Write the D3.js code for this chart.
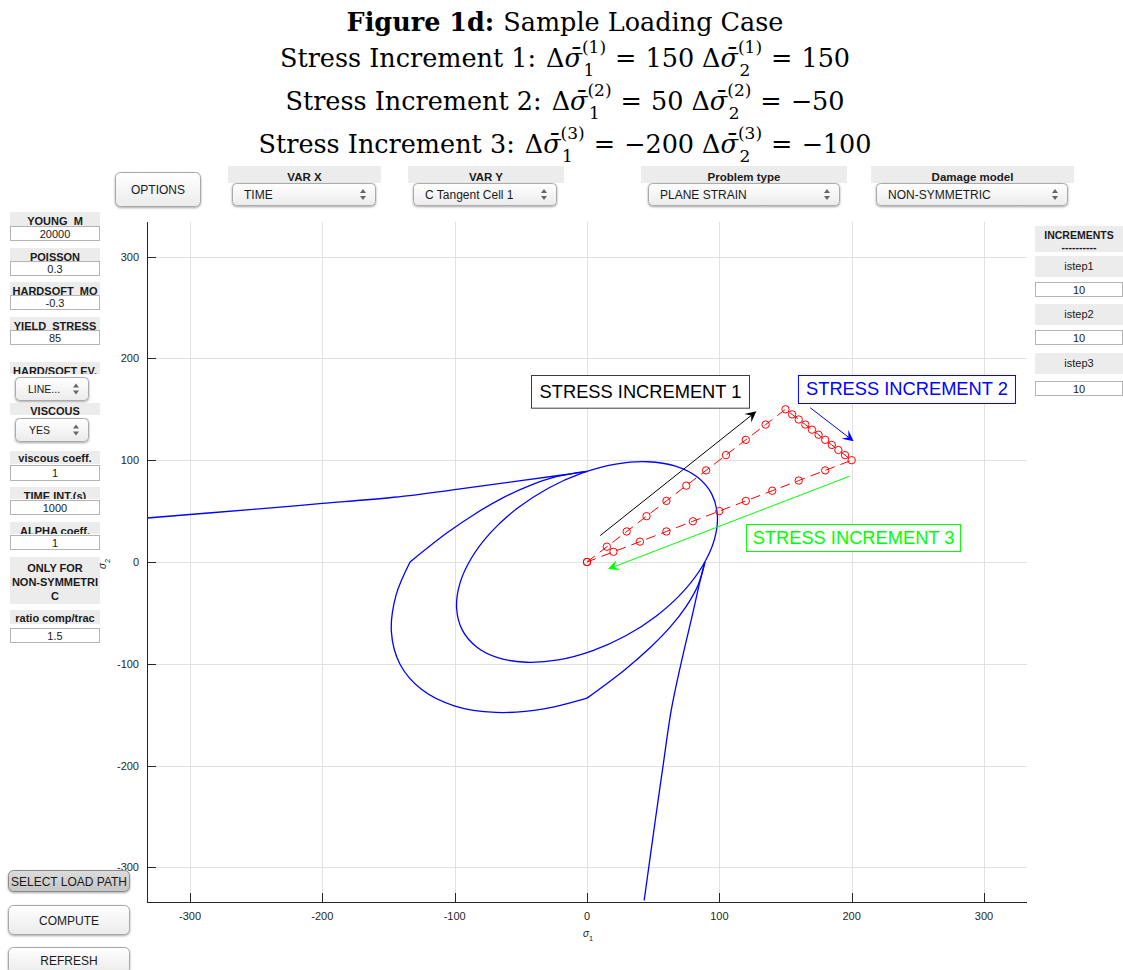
<!DOCTYPE html>
<html>
<head>
<meta charset="utf-8">
<script src="https://cdn.jsdelivr.net/npm/d3@7"></script>
<style>
  html, body { margin: 0; padding: 0; background: #fff; }
  svg { display: block; }
</style>
</head>
<body>
<svg id="fig" width="1123" height="970"></svg>
<script>
// ---------------- data ----------------
const titleHead = "Figure 1d:";
const titleSub = "Sample Loading Case";
const incS1 = [150, 50, -200];
const incS2 = [150, -50, -100];

const xTicks = [-300, -200, -100, 0, 100, 200, 300];
const yTicks = [-300, -200, -100, 0, 100, 200, 300];

// load path (sigma_1, sigma_2), 10 steps per increment
const pathS1 = [0, 15, 30, 45, 60, 75, 90, 105, 120, 135, 150,
                155, 160, 165, 170, 175, 180, 185, 190, 195, 200,
                180, 160, 140, 120, 100, 80, 60, 40, 20, 0];
const pathS2 = [0, 15, 30, 45, 60, 75, 90, 105, 120, 135, 150,
                145, 140, 135, 130, 125, 120, 115, 110, 105, 100,
                90, 80, 70, 60, 50, 40, 30, 20, 10, 0];

// closed elastic domain
const innerS1 = [83.4, 66.9, 45.9, 21.7, -3.9, -29.3, -52.7, -72.5, -87.3, -96.2, -98.5, -94.2,
                 -83.4, -66.9, -45.9, -21.7, 3.9, 29.3, 52.7, 72.5, 87.3, 96.2, 98.5, 94.2];
const innerS2 = [83.4, 94.2, 98.5, 96.2, 87.3, 72.5, 52.7, 29.3, 3.9, -21.7, -45.9, -66.9,
                 -83.4, -94.2, -98.5, -96.2, -87.3, -72.5, -52.7, -29.3, -3.9, 21.7, 45.9, 66.9];

// non-symmetric surface: mixed quadrant (s1<0, s2>0)
const mixATopS1 = [0, -22.5, -43.3, -63.3, -83.5, -106.0, -133.7];
const mixATopS2 = [89.1, 84.0, 75.1, 63.3, 48.2, 28.4, 0];
// compression-compression arc
const compS1 = [-133.7, -144.3, -147.8, -141.3, -125.1, -100.4, -68.9, -32.6, 0];
const compS2 = [0, -32.6, -68.9, -100.4, -125.1, -141.3, -147.8, -144.3, -133.7];
// mixed quadrant (s1>0, s2<0)
const mixBS1 = [0, 28.4, 48.2, 63.3, 75.1, 84.0, 89.1];
const mixBS2 = [-133.7, -106.0, -83.5, -63.3, -43.3, -22.5, 0];

// open branches
const branchLS1 = [-332.5, -250, -200, -146, -100, -50, -20, 0];
const branchLS2 = [43.2, 52, 57.5, 63.6, 71, 80, 85.2, 89.1];
const branchBS1 = [43.2, 52, 57.5, 63.6, 71, 80, 85.2, 89.1];
const branchBS2 = [-332.5, -250, -200, -146, -100, -50, -20, 0];

// annotations (data coordinates)
const arrowSpecs = [
  { from: [10, 26], to: [128, 148], color: "#000000" },
  { from: [168.7, 151.5], to: [201.5, 118.7], color: "#0000ff" },
  { from: [198.5, 84.3], to: [15.9, -6.9], color: "#00ff00" }
];
const boxSpecs = [
  { label: "STRESS INCREMENT 1", color: "#000000", border: "#3c3c3c", x0: -42.3, x1: 122.4, y0: 151.6, y1: 183.7 },
  { label: "STRESS INCREMENT 2", color: "#0000ff", border: "#0000ff", x0: 159.4, x1: 323.4, y0: 156.2, y1: 183.7 },
  { label: "STRESS INCREMENT 3", color: "#00ff00", border: "#00ff00", x0: 120.2, x1: 281.9, y0: 10.8, y1: 37.3 }
];

// ---------------- setup ----------------
const svg = d3.select("#fig");
const SANS = "'Liberation Sans', Arial, Helvetica, sans-serif";
const SERIF = "'DejaVu Serif', serif";

const defs = svg.append("defs");
const gBtn = defs.append("linearGradient").attr("id", "btnGrad").attr("x1", 0).attr("y1", 0).attr("x2", 0).attr("y2", 1);
gBtn.append("stop").attr("offset", "0%").attr("stop-color", "#ffffff");
gBtn.append("stop").attr("offset", "100%").attr("stop-color", "#ebebeb");
const gBtnP = defs.append("linearGradient").attr("id", "btnGradP").attr("x1", 0).attr("y1", 0).attr("x2", 0).attr("y2", 1);
gBtnP.append("stop").attr("offset", "0%").attr("stop-color", "#dcdcdc");
gBtnP.append("stop").attr("offset", "100%").attr("stop-color", "#c4c4c4");
const shadow = defs.append("filter").attr("id", "shadow").attr("x", "-10%").attr("y", "-20%").attr("width", "120%").attr("height", "150%");
shadow.append("feDropShadow").attr("dx", 0).attr("dy", 1).attr("stdDeviation", 0.8).attr("flood-color", "#000").attr("flood-opacity", 0.35);

// ---------------- title ----------------
const fmt = v => v < 0 ? "\u2212" + Math.abs(v) : String(v);
function drawTitleLine(parts, baseline) {
  const g = svg.append("g").attr("font-family", SERIF).attr("fill", "#000");
  let cx = 0;
  parts.forEach(p => {
    if (p.gap) { cx += p.gap; return; }
    if (p.sup !== undefined) {
      const a = g.append("text").attr("x", cx).attr("y", -14).attr("font-size", 17).text(p.sup);
      const b = g.append("text").attr("x", cx + 1.5).attr("y", 8.5).attr("font-size", 17).text(p.sub);
      cx += Math.max(a.node().getComputedTextLength(), b.node().getComputedTextLength() + 1.5) + 1;
      return;
    }
    const t = g.append("text").attr("x", cx).attr("y", 0).attr("font-size", 25.5).text(p.t);
    if (p.bold) t.attr("font-weight", "bold");
    if (p.it) t.attr("font-style", "italic");
    cx += t.node().getComputedTextLength();
  });
  g.attr("transform", `translate(${565 - cx / 2},${baseline})`);
}
drawTitleLine([{ t: titleHead, bold: true }, { gap: 9 }, { t: titleSub }], 31);
const baselines = [67, 110, 153];
incS1.forEach((v, i) => {
  const k = `(${i + 1})`;
  drawTitleLine([
    { t: `Stress Increment ${i + 1}:` }, { gap: 10 },
    { t: "\u0394" }, { t: "\u03C3\u0304", it: true }, { sup: k, sub: "1" }, { gap: 8 },
    { t: "=" }, { gap: 9 }, { t: fmt(v) }, { gap: 8 },
    { t: "\u0394" }, { t: "\u03C3\u0304", it: true }, { sup: k, sub: "2" }, { gap: 8 },
    { t: "=" }, { gap: 9 }, { t: fmt(incS2[i]) }
  ], baselines[i]);
});

// ---------------- GUI widgets ----------------
let clipId = 0;
function strip(x, y, w, h, lines, opt = {}) {
  const g = svg.append("g");
  g.append("rect").attr("x", x).attr("y", y).attr("width", w).attr("height", h).attr("fill", "#ececec");
  const id = "clip" + (clipId++);
  defs.append("clipPath").attr("id", id).append("rect").attr("x", x).attr("y", y).attr("width", w).attr("height", h);
  const tg = g.append("g").attr("clip-path", `url(#${id})`);
  lines.forEach((l, i) => {
    tg.append("text").attr("x", x + w / 2).attr("y", opt.base + i * (opt.lh || 14))
      .attr("text-anchor", "middle").attr("font-family", SANS)
      .attr("font-size", opt.size || 11).attr("font-weight", opt.normal ? "normal" : "bold")
      .attr("fill", "#1a1a1a").text(l);
  });
}
function editBox(x, y, w, h, value) {
  svg.append("rect").attr("x", x + 0.5).attr("y", y + 0.5).attr("width", w - 1).attr("height", h - 1)
    .attr("fill", "#fff").attr("stroke", "#b4b4b4").attr("stroke-width", 1);
  svg.append("text").attr("x", x + w / 2).attr("y", y + h / 2 + 4).attr("text-anchor", "middle")
    .attr("font-family", SANS).attr("font-size", 11).attr("fill", "#1a1a1a").text(value);
}
function popup(x, y, w, h, label, size = 12, tx = 12) {
  svg.append("rect").attr("x", x + 0.5).attr("y", y + 0.5).attr("width", w - 1).attr("height", h - 1).attr("rx", 4)
    .attr("fill", "url(#btnGrad)").attr("stroke", "#ababab").attr("filter", "url(#shadow)");
  svg.append("text").attr("x", x + tx).attr("y", y + h / 2 + 4).attr("font-family", SANS)
    .attr("font-size", size).attr("fill", "#1a1a1a").text(label);
  const ax = x + w - 13, cy = y + h / 2;
  svg.append("path").attr("d", `M${ax - 3},${cy - 1.5} L${ax + 3},${cy - 1.5} L${ax},${cy - 5.5} Z`).attr("fill", "#666");
  svg.append("path").attr("d", `M${ax - 3},${cy + 1.5} L${ax + 3},${cy + 1.5} L${ax},${cy + 5.5} Z`).attr("fill", "#666");
}
function button(x, y, w, h, label, pressed = false) {
  svg.append("rect").attr("x", x + 0.5).attr("y", y + 0.5).attr("width", w - 1).attr("height", h - 1).attr("rx", 5)
    .attr("fill", pressed ? "url(#btnGradP)" : "url(#btnGrad)")
    .attr("stroke", pressed ? "#8c8c8c" : "#a8a8a8").attr("filter", "url(#shadow)");
  svg.append("text").attr("x", x + w / 2).attr("y", y + h / 2 + 4.5).attr("text-anchor", "middle")
    .attr("font-family", SANS).attr("font-size", 12).attr("fill", "#1a1a1a").text(label);
}

// top row
button(115, 172, 86, 35, "OPTIONS");
strip(228, 166, 153, 17, ["VAR X"], { base: 180.5, size: 11.5 });
popup(232, 183, 144, 23, "TIME");
strip(408, 166, 156, 17, ["VAR Y"], { base: 180.5, size: 11.5 });
popup(413, 183, 144, 23, "C Tangent Cell 1");
strip(641, 166, 206, 17, ["Problem type"], { base: 180.5, size: 11.5 });
popup(648, 183, 192, 23, "PLANE STRAIN");
strip(871, 166, 203, 17, ["Damage model"], { base: 180.5, size: 11.5 });
popup(876, 183, 192, 23, "NON-SYMMETRIC");

// left column
strip(10, 212, 90, 14, ["YOUNG_M"], { base: 225 });
editBox(10, 226, 90, 15, "20000");
strip(10, 248, 90, 13, ["POISSON"], { base: 261 });
editBox(10, 261, 90, 15, "0.3");
strip(10, 282, 90, 13, ["HARDSOFT_MO"], { base: 295 });
editBox(10, 295, 90, 15, "-0.3");
strip(10, 317, 90, 13, ["YIELD_STRESS"], { base: 330 });
editBox(10, 330, 90, 15, "85");
strip(10, 362, 90, 12, ["HARD/SOFT EV."], { base: 374.5 });
popup(15, 377, 74, 24, "LINE...", 10.5, 13);
strip(10, 403, 90, 12, ["VISCOUS"], { base: 415 });
popup(15, 418, 74, 24, "YES", 10.5, 14);
strip(10, 451, 90, 13, ["viscous coeff."], { base: 462 });
editBox(10, 465, 90, 16, "1");
strip(10, 487, 90, 12, ["TIME INT.(s)"], { base: 499.5 });
editBox(10, 500, 90, 15, "1000");
strip(10, 522, 90, 12, ["ALPHA coeff."], { base: 534.5 });
editBox(10, 535, 90, 15, "1");
strip(10, 557, 90, 47, ["ONLY FOR", "NON-SYMMETRI", "C"], { base: 572, lh: 14 });
strip(10, 610, 90, 14, ["ratio comp/trac"], { base: 621.5 });
editBox(10, 628, 90, 15, "1.5");

// right column
strip(1035, 226, 88, 26, ["INCREMENTS", "----------"], { base: 239, lh: 12, size: 10.5 });
strip(1035, 256, 88, 21, ["istep1"], { base: 270, normal: true });
editBox(1035, 282, 88, 15, "10");
strip(1035, 304, 88, 21, ["istep2"], { base: 318, normal: true });
editBox(1035, 330, 88, 15, "10");
strip(1035, 353, 88, 21, ["istep3"], { base: 367, normal: true });
editBox(1035, 381, 88, 15, "10");

// ---------------- axes ----------------
const L = 147, R = 1027, T = 222, B = 902;
const x = d3.scaleLinear().domain([-332.5, 332.5]).range([L, R]);
const y = d3.scaleLinear().domain([-334, 334]).range([B, T]);
const plot = svg.append("g");
defs.append("clipPath").attr("id", "plotClip").append("rect").attr("x", L).attr("y", T).attr("width", R - L).attr("height", B - T);

// grid
plot.append("g").selectAll("line.gx").data(xTicks).join("line")
  .attr("x1", d => Math.round(x(d)) + 0.5).attr("x2", d => Math.round(x(d)) + 0.5)
  .attr("y1", T).attr("y2", B).attr("stroke", "#e1e1e1").attr("stroke-width", 1);
plot.append("g").selectAll("line.gy").data(yTicks).join("line")
  .attr("y1", d => Math.round(y(d)) + 0.5).attr("y2", d => Math.round(y(d)) + 0.5)
  .attr("x1", L).attr("x2", R).attr("stroke", "#e1e1e1").attr("stroke-width", 1);

// curves
const curves = plot.append("g").attr("clip-path", "url(#plotClip)");
const zip = (a, b) => a.map((v, i) => [v, b[i]]);
const smooth = d3.line().x(d => x(d[0])).y(d => y(d[1])).curve(d3.curveCatmullRom.alpha(0.5));
const smoothClosed = d3.line().x(d => x(d[0])).y(d => y(d[1])).curve(d3.curveCatmullRomClosed.alpha(0.5));
const blue = { stroke: "#0000ff", width: 1.3 };
[[mixATopS1, mixATopS2], [compS1, compS2], [mixBS1, mixBS2], [branchLS1, branchLS2], [branchBS1, branchBS2]]
  .forEach(([a, b]) => {
    curves.append("path").attr("d", smooth(zip(a, b))).attr("fill", "none")
      .attr("stroke", blue.stroke).attr("stroke-width", blue.width);
  });
curves.append("path").attr("d", smoothClosed(zip(innerS1, innerS2))).attr("fill", "none")
  .attr("stroke", blue.stroke).attr("stroke-width", blue.width);

// load path
const straight = d3.line().x(d => x(d[0])).y(d => y(d[1]));
const pathPts = zip(pathS1, pathS2);
curves.append("path").attr("d", straight(pathPts)).attr("fill", "none")
  .attr("stroke", "#ff0000").attr("stroke-width", 1).attr("stroke-dasharray", "10,6");
curves.append("g").selectAll("circle").data(pathPts).join("circle")
  .attr("cx", d => x(d[0])).attr("cy", d => y(d[1])).attr("r", 3.7)
  .attr("fill", "none").attr("stroke", "#ff0000").attr("stroke-width", 1);

// axis lines and ticks
const axisColor = "#262626";
plot.append("line").attr("x1", L).attr("x2", R).attr("y1", B + 0.5).attr("y2", B + 0.5).attr("stroke", axisColor);
plot.append("line").attr("x1", L + 0.5).attr("x2", L + 0.5).attr("y1", T).attr("y2", B).attr("stroke", axisColor);
plot.append("g").selectAll("line").data(xTicks).join("line")
  .attr("x1", d => Math.round(x(d)) + 0.5).attr("x2", d => Math.round(x(d)) + 0.5)
  .attr("y1", B).attr("y2", B - 9).attr("stroke", axisColor);
plot.append("g").selectAll("line").data(yTicks).join("line")
  .attr("y1", d => Math.round(y(d)) + 0.5).attr("y2", d => Math.round(y(d)) + 0.5)
  .attr("x1", L).attr("x2", L + 9).attr("stroke", axisColor);

plot.append("g").selectAll("text").data(xTicks).join("text")
  .attr("x", d => x(d)).attr("y", B + 18).attr("text-anchor", "middle")
  .attr("font-family", SANS).attr("font-size", 11).attr("fill", axisColor).text(d => d);
plot.append("g").selectAll("text").data(yTicks).join("text")
  .attr("x", L - 8).attr("y", d => y(d) + 4).attr("text-anchor", "end")
  .attr("font-family", SANS).attr("font-size", 11).attr("fill", axisColor).text(d => d);

// axis labels
const xl = plot.append("text").attr("x", 583).attr("y", 937).attr("font-family", SANS).attr("fill", axisColor);
xl.append("tspan").attr("font-size", 10).attr("font-style", "italic").text("\u03C3");
xl.append("tspan").attr("font-size", 7.5).attr("dy", 4).text("1");
const yl = plot.append("text").attr("transform", "translate(106,569) rotate(-90)").attr("font-family", SANS).attr("fill", axisColor);
yl.append("tspan").attr("font-size", 10).attr("font-style", "italic").text("\u03C3");
yl.append("tspan").attr("font-size", 7.5).attr("dy", 4).text("2");

// ---------------- annotations ----------------
const ann = svg.append("g");
arrowSpecs.forEach(a => {
  const x0 = x(a.from[0]), y0 = y(a.from[1]), x1 = x(a.to[0]), y1 = y(a.to[1]);
  const dx = x1 - x0, dy = y1 - y0, len = Math.hypot(dx, dy);
  const ux = dx / len, uy = dy / len, nx = -uy, ny = ux;
  const HL = 11, HW = 5.5, notch = 0.6 * HL;
  ann.append("line").attr("x1", x0).attr("y1", y0).attr("x2", x1 - ux * notch).attr("y2", y1 - uy * notch)
    .attr("stroke", a.color).attr("stroke-width", 1);
  const pts = [
    [x1, y1],
    [x1 - ux * HL + nx * HW, y1 - uy * HL + ny * HW],
    [x1 - ux * notch, y1 - uy * notch],
    [x1 - ux * HL - nx * HW, y1 - uy * HL - ny * HW]
  ];
  ann.append("polygon").attr("points", pts.map(p => p.join(",")).join(" ")).attr("fill", a.color);
});
boxSpecs.forEach(b => {
  const bx = x(b.x0), bw = x(b.x1) - x(b.x0), by = y(b.y1), bh = y(b.y0) - y(b.y1);
  ann.append("rect").attr("x", bx + 0.5).attr("y", by + 0.5).attr("width", bw).attr("height", bh)
    .attr("fill", "#fff").attr("stroke", b.border).attr("stroke-width", 1);
  ann.append("text").attr("x", bx + bw / 2 + 0.5).attr("y", by + bh / 2 + 6.5).attr("text-anchor", "middle")
    .attr("font-family", SANS).attr("font-size", 18.3).attr("fill", b.color).text(b.label);
});

// bottom-left buttons (drawn last, over the axis labels)
button(8, 870, 122, 22, "SELECT LOAD PATH", true);
button(8, 905, 122, 30, "COMPUTE");
button(8, 947, 122, 27, "REFRESH");
</script>
</body>
</html>
